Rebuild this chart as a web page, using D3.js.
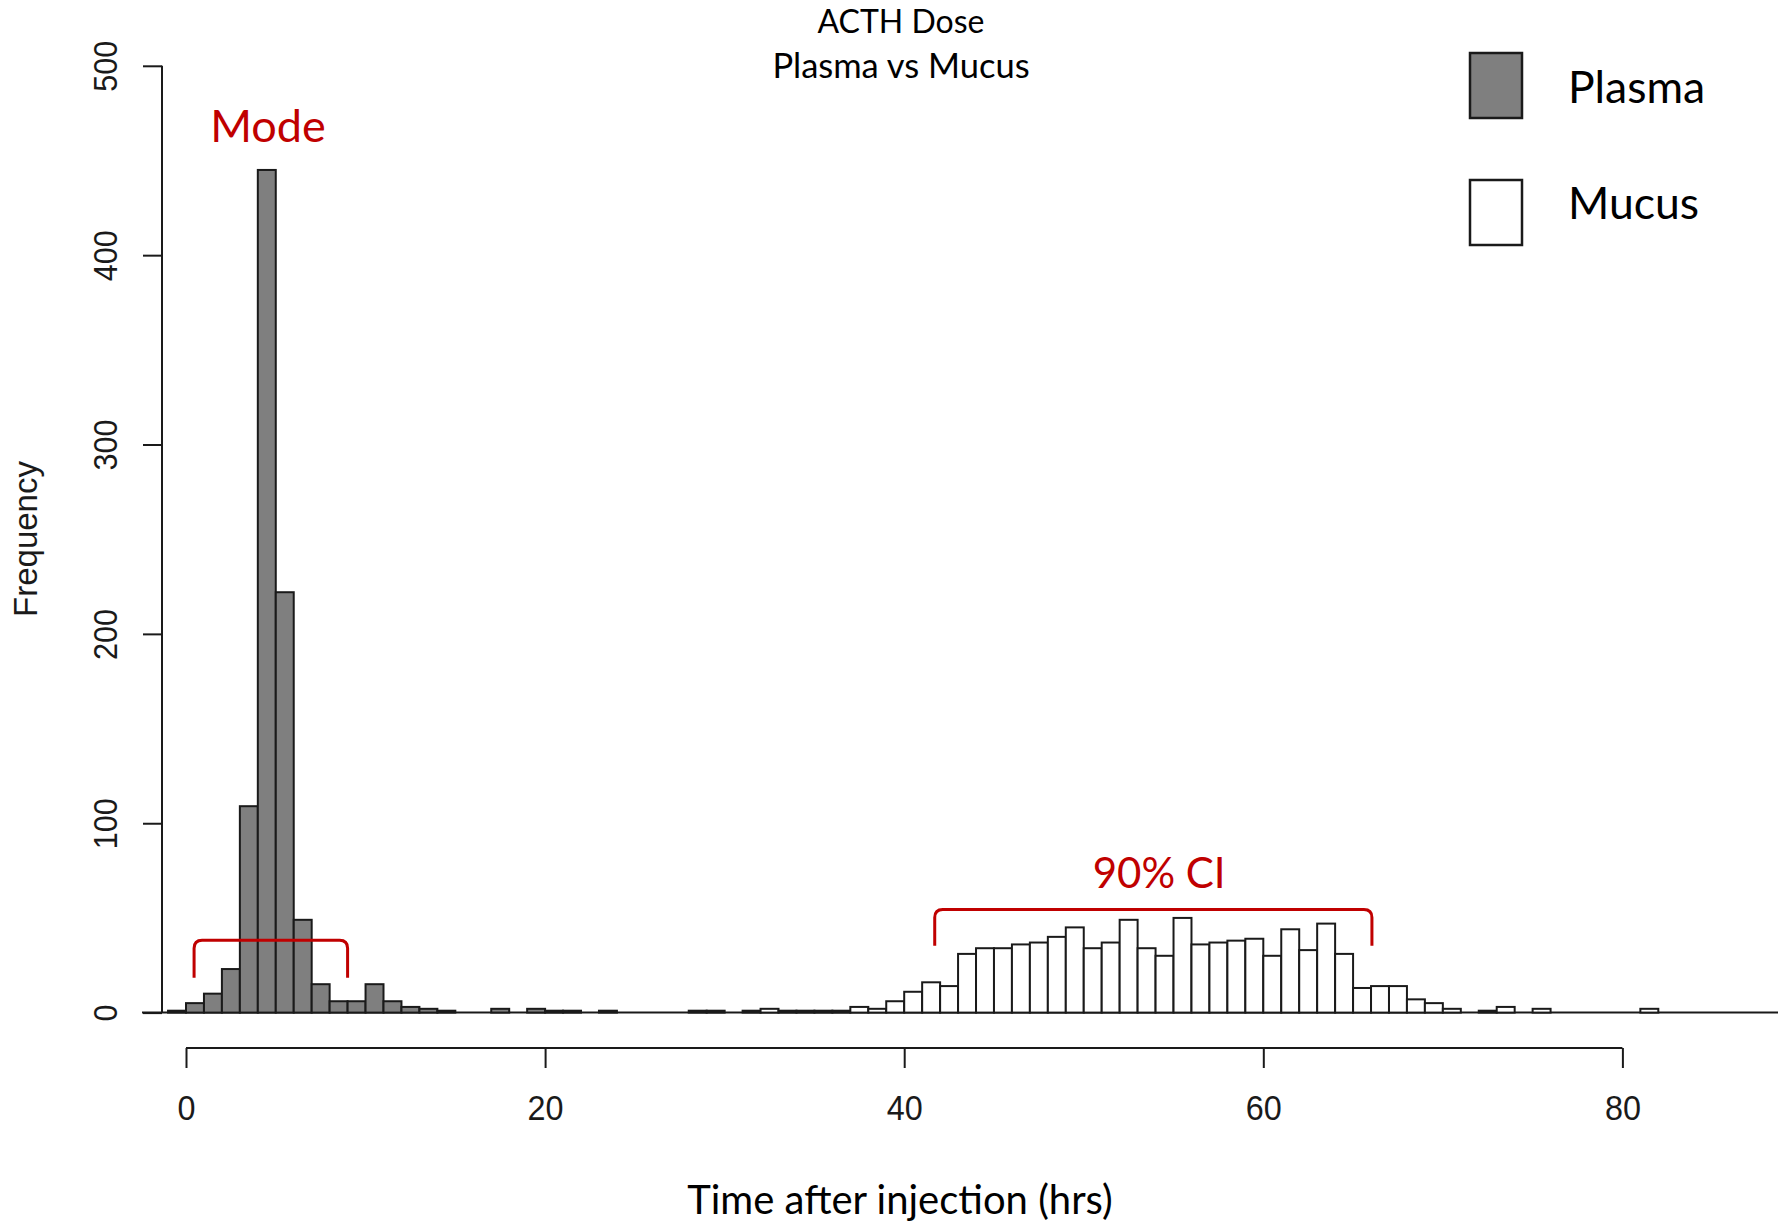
<!DOCTYPE html>
<html>
<head>
<meta charset="utf-8">
<script src="https://cdn.jsdelivr.net/npm/d3@7"></script>
<style>
  body { margin: 0; background: #fff; }
  svg { display: block; }
</style>
</head>
<body>
<svg id="chart" width="1778" height="1226"></svg>
<script>
// histogram bins are 1 hour wide, value = left edge of the bin
var plasmaBins = [-1, 0, 1, 2, 3, 4, 5, 6, 7, 8, 9, 10, 11, 12, 13, 14, 15, 16, 17, 18, 19, 20, 21, 22, 23, 24, 25, 26, 27, 28, 29];
var plasmaCounts = [1, 5, 10, 23, 109, 445, 222, 49, 15, 6, 6, 15, 6, 3, 2, 1, 0, 0, 2, 0, 2, 1, 1, 0, 1, 0, 0, 0, 0, 1, 1];

var mucusBins = [31, 32, 33, 34, 35, 36, 37, 38, 39, 40, 41, 42, 43, 44, 45, 46, 47, 48, 49, 50, 51, 52, 53, 54, 55, 56, 57, 58, 59, 60,
                 61, 62, 63, 64, 65, 66, 67, 68, 69, 70, 71, 72, 73, 74, 75, 76, 77, 78, 79, 80, 81];
var mucusCounts = [1, 2, 1, 1, 1, 1, 3, 2, 6, 11, 16, 14, 31, 34, 34, 36, 37, 40, 45, 34, 37, 49, 34, 30, 50, 36, 37, 38, 39, 30,
                   44, 33, 47, 31, 13, 14, 14, 7, 5, 2, 0, 1, 3, 0, 2, 0, 0, 0, 0, 0, 2];

var xTicks = [0, 20, 40, 60, 80];
var yTicks = [0, 100, 200, 300, 400, 500];
var titleLines = ["ACTH Dose", "Plasma vs Mucus"];
var legendItems = ["Plasma", "Mucus"];
var binWidth = 1;

// bracket annotations: [from, to] in hours, top and leg end in frequency units
var modeBracket = {x0: 0.45, x1: 9.0, top: 38.2, leg: 18.4, label: "Mode", lx: 4.57, ly: 460};
var ciBracket = {x0: 41.7, x1: 66.05, top: 54.5, leg: 35.3, label: "90% CI", lx: 54.2, ly: 65.8};

const svg = d3.select('#chart');
const red = '#c00000';
const ink = '#1a1a1a';
const calibriLike = 'Lato, "Open Sans", sans-serif';
const rFont = '"Liberation Sans", Arial, sans-serif';

const x = d3.scaleLinear().domain([0, 80]).range([186, 1622.4]);
const y = d3.scaleLinear().domain([0, 500]).range([1012.6, 65.8]);
const plotLeft = 162;

// baseline
svg.append('line')
    .attr('x1', 142).attr('x2', 1778)
    .attr('y1', y(0)).attr('y2', y(0))
    .attr('stroke', ink).attr('stroke-width', 2);

function drawHist(bins, counts, fill) {
    var data = bins.map((b, i) => ({start: b, count: counts[i]})).filter(d => d.count > 0);
    svg.append('g')
        .selectAll('rect')
        .data(data)
        .enter().append('rect')
        .attr('x', d => x(d.start))
        .attr('y', d => y(d.count))
        .attr('width', d => x(d.start + binWidth) - x(d.start))
        .attr('height', d => y(0) - y(d.count))
        .attr('fill', fill)
        .attr('stroke', ink)
        .attr('stroke-width', 2);
}
drawHist(plasmaBins, plasmaCounts, '#7f7f7f');
drawHist(mucusBins, mucusCounts, '#ffffff');

// y axis (R style, rotated labels)
var yAxis = svg.append('g').attr('transform', 'translate(' + plotLeft + ',0)');
yAxis.call(d3.axisLeft(y).tickValues(yTicks).tickSize(19).tickFormat(d3.format('d')));
yAxis.select('.domain').attr('d', 'M0,' + y(0) + 'V' + y(500)).attr('stroke', ink).attr('stroke-width', 2);
yAxis.selectAll('.tick line').attr('stroke', ink).attr('stroke-width', 2);
yAxis.selectAll('.tick text')
    .attr('x', null).attr('dy', null)
    .attr('transform', 'translate(-45,0) rotate(-90)')
    .attr('text-anchor', 'middle')
    .attr('font-family', rFont)
    .attr('font-size', 34)
    .attr('fill', ink)
    .attr('textLength', d => String(d).length * 17)
    .attr('lengthAdjust', 'spacingAndGlyphs');

// x axis
var xAxis = svg.append('g').attr('transform', 'translate(0,1048)');
xAxis.call(d3.axisBottom(x).tickValues(xTicks).tickSize(20).tickFormat(d3.format('d')));
xAxis.select('.domain').attr('d', 'M' + x(0) + ',0H' + x(80)).attr('stroke', ink).attr('stroke-width', 2);
xAxis.selectAll('.tick line').attr('stroke', ink).attr('stroke-width', 2);
xAxis.selectAll('.tick text')
    .attr('y', 72).attr('dy', null)
    .attr('font-family', rFont)
    .attr('font-size', 35)
    .attr('fill', ink)
    .attr('textLength', d => String(d).length * 18)
    .attr('lengthAdjust', 'spacingAndGlyphs');

// axis titles
svg.append('text')
    .attr('transform', 'translate(37,539) rotate(-90)')
    .attr('text-anchor', 'middle')
    .attr('font-family', rFont)
    .attr('font-size', 33)
    .attr('fill', ink)
    .text('Frequency');

svg.append('text')
    .attr('x', 900).attr('y', 1214)
    .attr('text-anchor', 'middle')
    .attr('font-family', calibriLike)
    .attr('font-size', 40)
    .attr('fill', '#000')
    .text('Time after injection (hrs)');

// title
svg.append('g').selectAll('text')
    .data(titleLines)
    .enter().append('text')
    .attr('x', 901)
    .attr('y', (d, i) => 33 + i * 45)
    .attr('text-anchor', 'middle')
    .attr('font-family', calibriLike)
    .attr('font-size', (d, i) => i === 0 ? 32 : 34.5)
    .attr('fill', '#000')
    .text(d => d);

// legend
var legend = svg.append('g').selectAll('g')
    .data(legendItems)
    .enter().append('g')
    .attr('transform', (d, i) => 'translate(1470,' + (53 + i * 127) + ')');
legend.append('rect')
    .attr('width', 52).attr('height', 65)
    .attr('fill', (d, i) => i === 0 ? '#7f7f7f' : '#ffffff')
    .attr('stroke', ink).attr('stroke-width', 2.5);
legend.append('text')
    .attr('x', 98).attr('y', (d, i) => i === 0 ? 50 : 39)
    .attr('font-family', calibriLike)
    .attr('font-size', 44.5)
    .attr('fill', '#000')
    .text(d => d);

// red bracket annotations
function bracket(b, size) {
    var x0 = x(b.x0), x1 = x(b.x1), yt = y(b.top), yl = y(b.leg), r = 8;
    svg.append('path')
        .attr('d', 'M' + x0 + ',' + yl + 'L' + x0 + ',' + (yt + r) +
            'Q' + x0 + ',' + yt + ' ' + (x0 + r) + ',' + yt +
            'L' + (x1 - r) + ',' + yt +
            'Q' + x1 + ',' + yt + ' ' + x1 + ',' + (yt + r) +
            'L' + x1 + ',' + yl)
        .attr('fill', 'none')
        .attr('stroke', red)
        .attr('stroke-width', 3);
    svg.append('text')
        .attr('x', x(b.lx)).attr('y', y(b.ly))
        .attr('text-anchor', 'middle')
        .attr('font-family', calibriLike)
        .attr('font-size', size)
        .attr('fill', red)
        .text(b.label);
}
bracket(modeBracket, 45);
bracket(ciBracket, 42);
</script>
</body>
</html>
